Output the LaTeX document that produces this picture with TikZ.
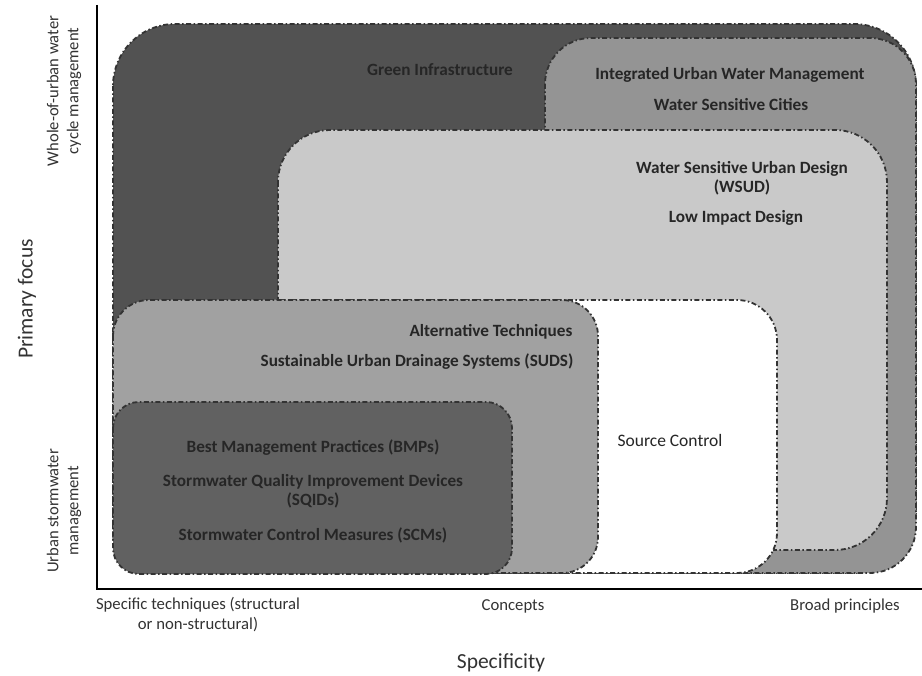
\documentclass[tikz,border=0pt]{standalone}
\usepackage{fontspec}
\setmainfont{Carlito}
\begin{document}
\begin{tikzpicture}[x=1pt,y=-1pt,
  zone/.style={draw=black!80, line width=1.8pt, dash pattern=on 5pt off 2.5pt on 1.5pt off 2.5pt},
  lbl/.style={font=\fontsize{17.2}{19}\selectfont\bfseries, text=black!85, align=center, inner sep=0pt},
  axlbl/.style={font=\fontsize{16.7}{20}\selectfont, text=black!80, align=center, inner sep=0pt},
  vlbl/.style={font=\fontsize{16.6}{20}\selectfont, text=black!80, align=center, inner sep=0pt, rotate=90},
  bigax/.style={font=\fontsize{21.5}{23}\selectfont, text=black!80, inner sep=0pt}]
\useasboundingbox (0,0) rectangle (922,676);
\fill[white] (0,0) rectangle (922,676);
% zones
\filldraw[zone, fill=black!68, rounded corners=62pt] (113,24) rectangle (916,573);
\filldraw[zone, fill=black!42, rounded corners=46pt] (545,38) rectangle (916,573);
\filldraw[zone, fill=black!21, rounded corners=52pt] (278,130) rectangle (887,550);
\filldraw[zone, fill=white, rounded corners=40pt] (113,300) rectangle (777,573);
\filldraw[zone, fill=black!37, rounded corners=36pt] (113,300) rectangle (598,573);
\filldraw[zone, fill=black!62, rounded corners=26pt] (113,402) rectangle (512,574);
% axes
\coordinate (top) at (97,5);
\coordinate (origin) at (97,589);
\coordinate (right) at (922,589);
\draw[line width=2pt] (top) -- (origin) -- (right);
% zone labels
\node[lbl] (gi) at (440,70) {Green Infrastructure};
\node[lbl] (iuwm) at (730,75) {Integrated Urban Water Management};
\node[lbl] (wsc) at (731,105) {Water Sensitive Cities};
\node[lbl] (wsud) at (742,178) {Water Sensitive Urban Design\\[0pt](WSUD)};
\node[lbl] (lid) at (736,218) {Low Impact Design};
\node[lbl] (alt) at (491,332) {Alternative Techniques};
\node[lbl] (suds) at (417,362) {Sustainable Urban Drainage Systems (SUDS)};
\node[lbl] (bmp) at (313,448) {Best Management Practices (BMPs)};
\node[lbl] (sqid) at (313,491) {Stormwater Quality Improvement Devices\\[0pt](SQIDs)};
\node[lbl] (scm) at (313,535) {Stormwater Control Measures (SCMs)};
\node[lbl, font=\fontsize{17.5}{19}\selectfont] (sc) at (670,440) {Source Control};
% axis labels
\node[vlbl] (whole) at (64,91) {Whole-of-urban water\\cycle management};
\node[vlbl] (storm) at (64,511) {Urban stormwater\\management};
\node[bigax, rotate=90] (pf) at (27,299) {Primary focus};
\node[axlbl] (spec) at (198,615) {Specific techniques (structural\\or non-structural)};
\node[axlbl] (conc) at (513,606) {Concepts};
\node[axlbl] (broad) at (845,606) {Broad principles};
\node[bigax] (sp) at (501,663) {Specificity};
\end{tikzpicture}
\end{document}
